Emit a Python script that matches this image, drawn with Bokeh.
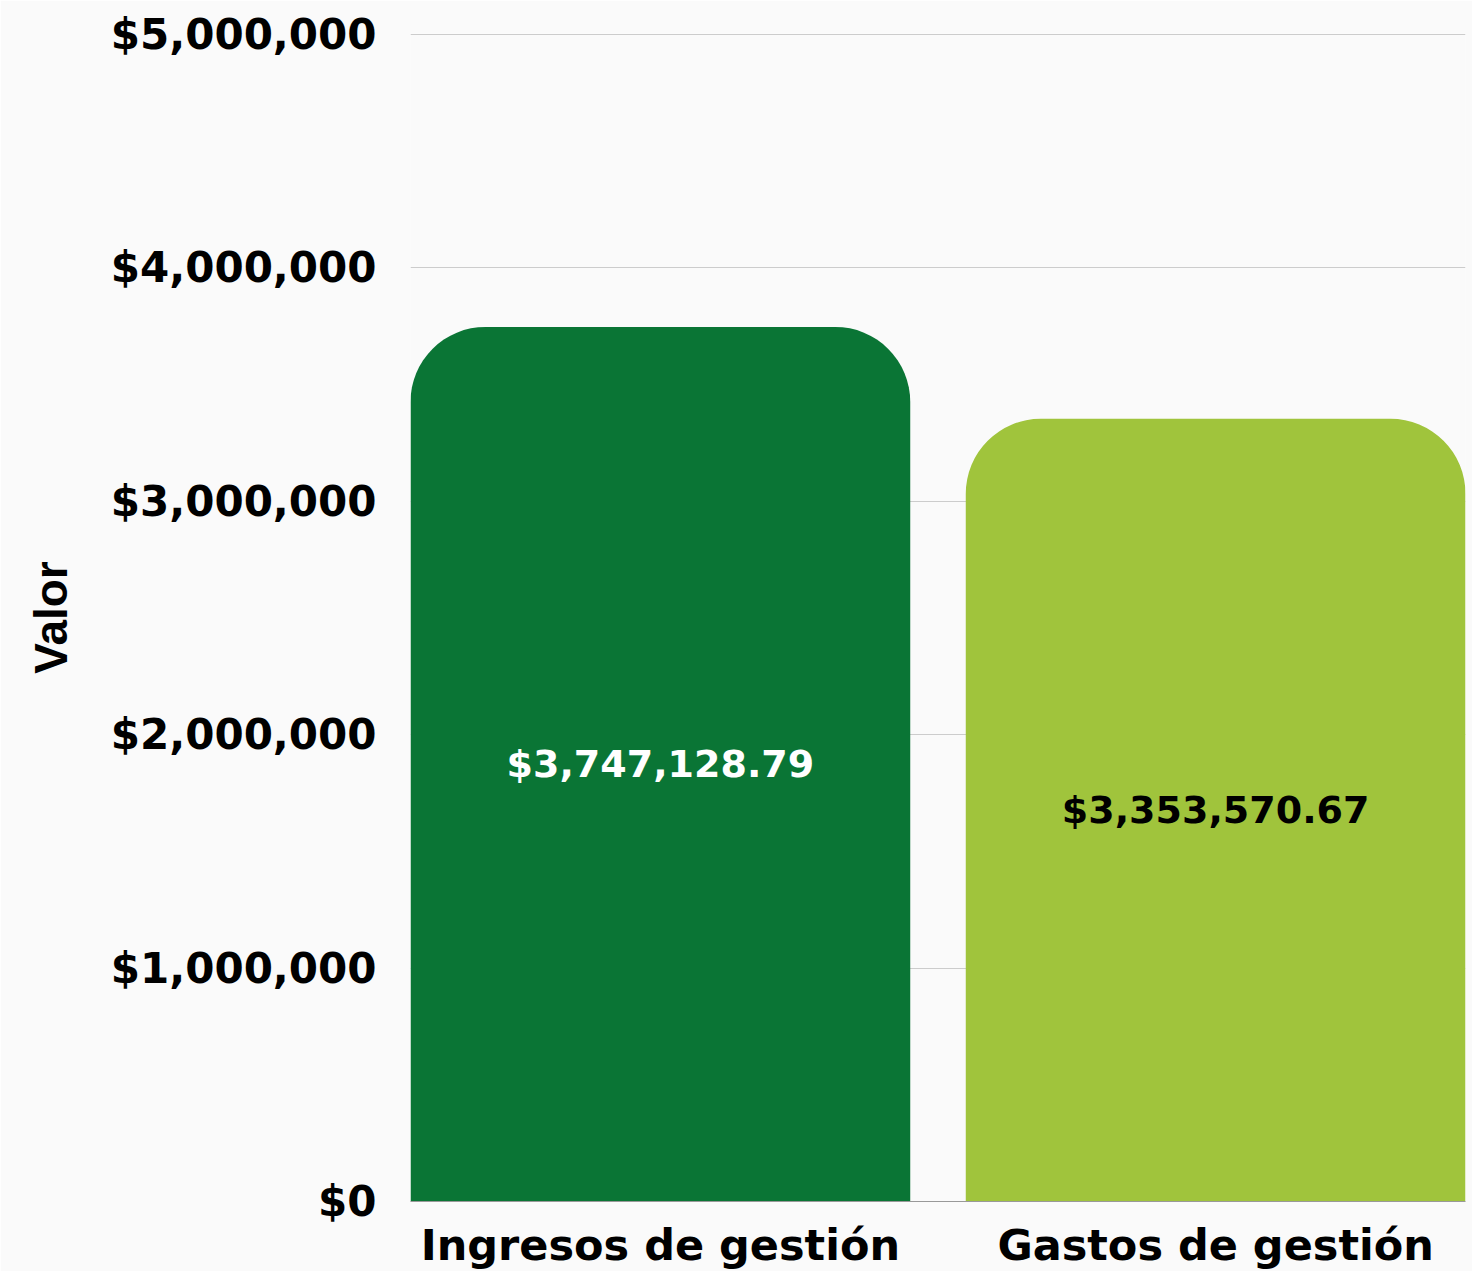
from bokeh.plotting import figure
from bokeh.models import ColumnDataSource, Range1d, FixedTicker, NumeralTickFormatter
from bokeh.core.properties import value
from bokeh.embed import file_html
from bokeh.resources import INLINE

categories = ["Ingresos de gestión", "Gastos de gestión"]
values = [3747128.79, 3353570.67]
value_labels = ["$3,747,128.79", "$3,353,570.67"]
y_ticks = [0, 1000000, 2000000, 3000000, 4000000, 5000000]

bar_colors = ["#0a7535", "#a0c43c"]
label_colors = ["#ffffff", "#000000"]

xs = list(range(len(categories)))
src = ColumnDataSource(dict(
    x=xs, top=values, mid=[v / 2 for v in values],
    label=value_labels, color=bar_colors, tcolor=label_colors,
))

FONT = "DejaVu Sans"
BG = "#fafafa"

p = figure(width=1472, height=1272, output_backend="svg", toolbar_location=None,
           x_range=Range1d(-0.45, 1.45), y_range=Range1d(0, 5004300),
           min_border_left=410, min_border_right=7, min_border_top=33, min_border_bottom=71,
           background_fill_color=BG, border_fill_color=BG)
p.outline_line_color = None

p.vbar(x="x", top="top", bottom=0, width=0.9, fill_color="color", line_color=None,
       border_radius=(75, 75, 0, 0), source=src)

p.text(x="x", y="mid", text="label", text_color="tcolor", source=src,
       text_font=value(FONT), text_font_style="bold", text_font_size="38px",
       text_align="center", text_baseline="middle")

p.xgrid.grid_line_color = None
p.ygrid.grid_line_color = "#cccccc"
p.ygrid.grid_line_width = 1
p.ygrid.ticker = FixedTicker(ticks=y_ticks)

p.yaxis.ticker = FixedTicker(ticks=y_ticks)
p.yaxis.formatter = NumeralTickFormatter(format="$0,0")
p.yaxis.axis_line_color = None
p.yaxis.major_tick_line_color = None
p.yaxis.minor_tick_line_color = None
p.yaxis.major_label_standoff = 28
p.yaxis.major_label_text_font = FONT
p.yaxis.major_label_text_font_style = "bold"
p.yaxis.major_label_text_font_size = "42px"
p.yaxis.major_label_text_color = "#000000"
p.yaxis.axis_label = "Valor"
p.yaxis.axis_label_text_font = "Liberation Sans"
p.yaxis.axis_label_text_font_style = "bold"
p.yaxis.axis_label_text_font_size = "46px"
p.yaxis.axis_label_text_color = "#000000"
p.yaxis.axis_label_standoff = 31

p.xaxis.ticker = FixedTicker(ticks=xs)
p.xaxis.major_label_overrides = {i: c for i, c in zip(xs, categories)}
p.xaxis.axis_line_color = "#999999"
p.xaxis.axis_line_width = 1
p.xaxis.major_tick_line_color = None
p.xaxis.minor_tick_line_color = None
p.xaxis.major_label_standoff = 12
p.xaxis.major_label_text_font = FONT
p.xaxis.major_label_text_font_style = "bold"
p.xaxis.major_label_text_font_size = "43px"
p.xaxis.major_label_text_color = "#000000"

open("out.html", "w").write(file_html(p, INLINE))
